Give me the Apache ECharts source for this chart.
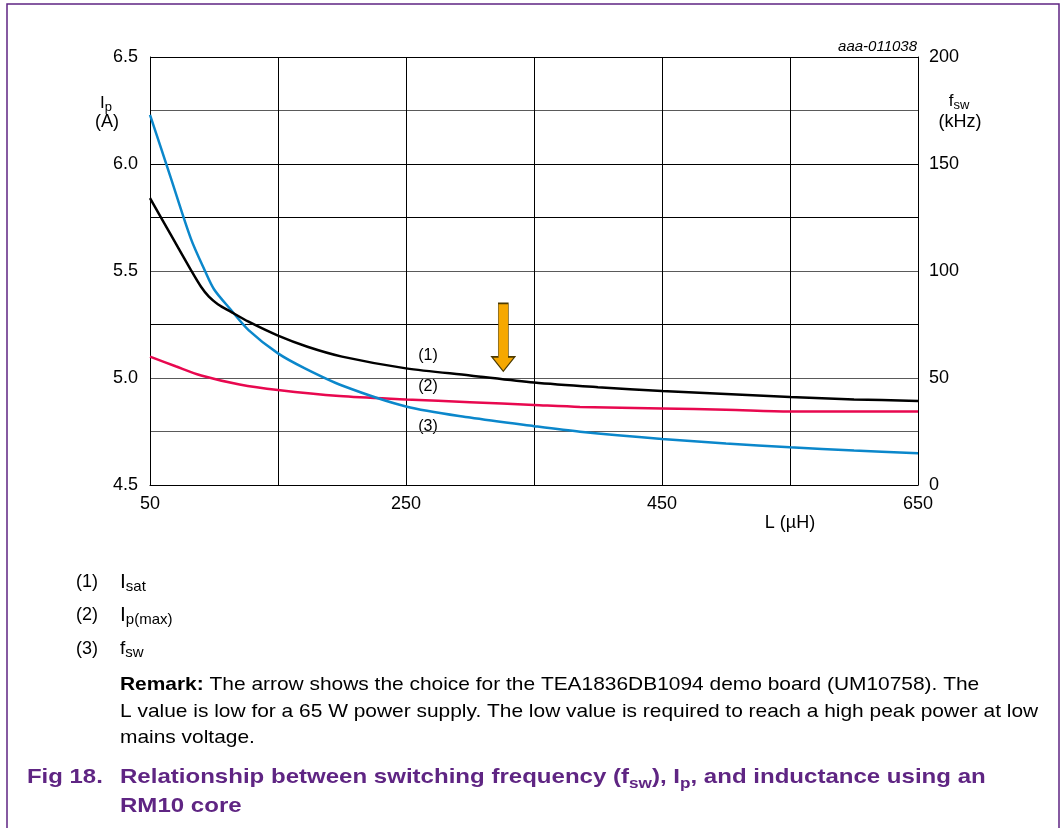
<!DOCTYPE html>
<html>
<head>
<meta charset="utf-8">
<script src="https://cdn.jsdelivr.net/npm/echarts@6/dist/echarts.min.js"></script>
<style>
  html, body { margin: 0; padding: 0; background: #fff; }
  #chart { width: 1063px; height: 828px; }
</style>
</head>
<body>
<div id="chart"></div>
<script>
// (1) Isat, left axis (A)
var isatL = [50, 66, 82, 90, 96, 103, 113, 127, 150, 173, 200, 250, 300, 350, 400, 450, 500, 550, 600, 650];
var isatA = [5.84, 5.672, 5.504, 5.425, 5.38, 5.345, 5.31, 5.263, 5.198, 5.146, 5.10, 5.045, 5.012, 4.979, 4.957, 4.939, 4.925, 4.911, 4.90, 4.893];

// (2) Ip(max), left axis (A)
var ipL = [50, 70, 90, 120, 150, 198, 250, 300, 350, 386, 450, 500, 550, 600, 650];
var ipA = [5.10, 5.055, 5.012, 4.97, 4.944, 4.916, 4.90, 4.887, 4.874, 4.865, 4.858, 4.852, 4.844, 4.843, 4.843];

// (3) fsw, right axis (kHz)
var fswL = [50, 66, 82, 93, 100, 113, 127, 150, 171, 200, 250, 300, 350, 386, 450, 500, 550, 600, 650];
var fswK = [173, 144, 115, 100, 91.5, 82, 72.4, 61.5, 54.5, 46.5, 36.7, 31.5, 27.5, 24.9, 21.5, 19.4, 17.6, 16.1, 14.8];

// tick labels
var xLabels = [50, 250, 450, 650];
var leftLabels = [4.5, 5.0, 5.5, 6.0, 6.5];
var rightLabels = [0, 50, 100, 150, 200];

// arrow: choice for the demo board
var arrowAt = [326, 5.19];

var font = '"Liberation Sans", Arial, Helvetica, sans-serif';
var purple = '#5f2583';

function pairs(xs, ys) {
  return xs.map(function (x, i) { return [x, ys[i]]; });
}

function hasLabel(list, v) {
  return list.some(function (l) { return Math.abs(l - v) < 1e-6; });
}

function txt(x, y, text, style, extra) {
  var el = {
    type: 'text',
    x: x,
    y: y,
    silent: true,
    style: Object.assign({
      text: text,
      fontFamily: font,
      fontSize: 18,
      fill: '#000',
      align: 'left',
      verticalAlign: 'middle'
    }, style)
  };
  return Object.assign(el, extra || {});
}

function subRich(size, subSize, color, weight, lh, subLh) {
  return {
    m: { fontFamily: font, fontSize: size, fill: color, fontWeight: weight || 'normal', lineHeight: lh || size + 4, verticalAlign: 'middle' },
    s: { fontFamily: font, fontSize: subSize, fill: color, fontWeight: weight || 'normal', lineHeight: subLh || subSize, verticalAlign: 'bottom' }
  };
}

var chart = echarts.init(document.getElementById('chart'));

var lineCommon = {
  type: 'line',
  showSymbol: false,
  smooth: 0.3,
  silent: true
};

chart.setOption({
  animation: false,
  backgroundColor: '#fff',
  grid: { left: 150, right: 145, top: 57, bottom: 343, containLabel: false },
  xAxis: {
    type: 'value',
    min: 50,
    max: 650,
    interval: 100,
    axisLine: { show: true, lineStyle: { color: '#000', width: 1 } },
    axisTick: { show: false },
    axisLabel: {
      margin: 10,
      color: '#000',
      fontFamily: font,
      fontSize: 18,
      formatter: function (v) { return hasLabel(xLabels, v) ? String(v) : ''; }
    },
    splitLine: { show: true, lineStyle: { color: '#000', width: 1 } }
  },
  yAxis: [
    {
      type: 'value',
      min: 4.5,
      max: 6.5,
      interval: 0.25,
      axisLine: { show: true, lineStyle: { color: '#000', width: 1 } },
      axisTick: { show: false },
      axisLabel: {
        margin: 12,
        color: '#000',
        fontFamily: font,
        fontSize: 18,
        formatter: function (v) { return hasLabel(leftLabels, v) ? v.toFixed(1) : ''; }
      },
      splitLine: {
        show: true,
        lineStyle: { color: ['#000', '#5a5a5a', '#5a5a5a', '#000', '#5a5a5a', '#000', '#000', '#5a5a5a', '#000'], width: 1 }
      }
    },
    {
      type: 'value',
      min: 0,
      max: 200,
      interval: 25,
      position: 'right',
      axisLine: { show: true, lineStyle: { color: '#000', width: 1 } },
      axisTick: { show: false },
      axisLabel: {
        margin: 11,
        color: '#000',
        fontFamily: font,
        fontSize: 18,
        formatter: function (v) { return hasLabel(rightLabels, v) ? String(v) : ''; }
      },
      splitLine: { show: false }
    }
  ],
  series: [
    Object.assign({}, lineCommon, {
      name: 'Isat',
      yAxisIndex: 0,
      data: pairs(isatL, isatA),
      lineStyle: { color: '#000', width: 2.5 },
      z: 4,
      markPoint: {
        silent: true,
        symbol: 'path://M6.5,0L16.5,0L16.5,53.5L23,53.5L11.5,68L0,53.5L6.5,53.5Z',
        symbolSize: [23, 68],
        symbolKeepAspect: false,
        itemStyle: { color: '#f6a800', borderColor: '#4d3a00', borderWidth: 1 },
        label: { show: false },
        data: [{ coord: arrowAt }]
      }
    }),
    Object.assign({}, lineCommon, {
      name: 'Ip(max)',
      yAxisIndex: 0,
      data: pairs(ipL, ipA),
      lineStyle: { color: '#e8084f', width: 2.5 },
      z: 3
    }),
    Object.assign({}, lineCommon, {
      name: 'fsw',
      yAxisIndex: 1,
      data: pairs(fswL, fswK),
      lineStyle: { color: '#0b87cb', width: 2.5 },
      z: 3
    })
  ],
  graphic: [
    // page frame
    {
      type: 'rect',
      silent: true,
      shape: { x: 7, y: 4, width: 1052, height: 900 },
      style: { fill: 'none', stroke: purple, lineWidth: 1.5 },
      z: 0
    },
    txt(917, 47, 'aaa-011038', { fontSize: 15, fontStyle: 'italic', align: 'right' }),

    // axis names
    txt(106, 103, '{m|I}{s|p}', { align: 'center', rich: subRich(17, 13, '#000') }),
    txt(107, 122, '(A)', { align: 'center' }),
    txt(959, 101, '{m|f}{s|sw}', { align: 'center', rich: subRich(17, 13, '#000') }),
    txt(960, 122, '(kHz)', { align: 'center' }),
    txt(790, 523, 'L (\u00b5H)', { align: 'center' }),

    // curve tags
    txt(428, 356, '(1)', { fontSize: 16, align: 'center' }),
    txt(428, 387, '(2)', { fontSize: 16, align: 'center', backgroundColor: '#fff', padding: [1, 5, 1, 5] }),
    txt(428, 427, '(3)', { fontSize: 16, align: 'center', backgroundColor: '#fff', padding: [1, 5, 1, 5] }),

    // notes
    txt(76, 582, '(1)', {}),
    txt(120, 582, '{m|I}{s|sat}', { rich: subRich(21, 15, '#000') }),
    txt(76, 615, '(2)', {}),
    txt(120, 615, '{m|I}{s|p(max)}', { rich: subRich(21, 15, '#000') }),
    txt(76, 649, '(3)', {}),
    txt(120, 649, '{m|f}{s|sw}', { rich: subRich(19, 15, '#000') }),

    txt(120, 672,
      '{b|Remark:} The arrow shows the choice for the TEA1836DB1094 demo board (UM10758). The\n' +
      'L value is low for a 65 W power supply. The low value is required to reach a high peak power at low\n' +
      'mains voltage.',
      {
        fontSize: 18.6, lineHeight: 26.5, verticalAlign: 'top',
        rich: { b: { fontFamily: font, fontSize: 18.6, fontWeight: 'bold', fill: '#000', lineHeight: 26.5 } }
      },
      { scaleX: 1.125 }
    ),

    // caption
    txt(27, 777.5, 'Fig 18.', { fontSize: 21, fontWeight: 'bold', fill: purple }, { scaleX: 1.14 }),
    txt(120, 763,
      '{m|Relationship between switching frequency (f}{s|sw}{m|), I}{s|p}{m|, and inductance using an}\n{m|RM10 core}',
      {
        verticalAlign: 'top',
        rich: subRich(21, 15, purple, 'bold', 28.5, 20)
      },
      { scaleX: 1.145 }
    )
  ]
});
</script>
</body>
</html>
